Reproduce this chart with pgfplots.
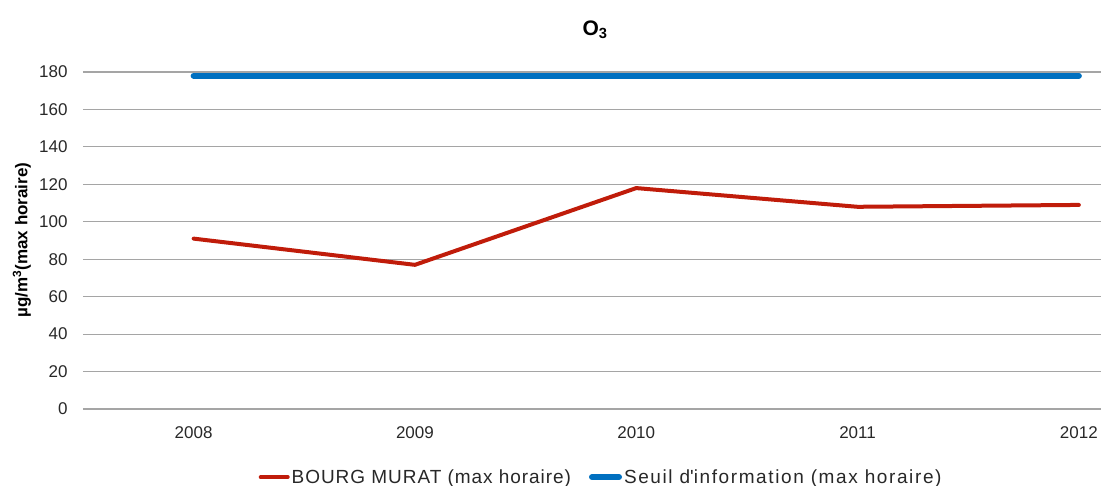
\documentclass[border=0pt]{standalone}
\usepackage{pgfplots}
\pgfplotsset{compat=1.18}
\usepackage{fontspec}
\setmainfont{Liberation Sans}
\definecolor{cred}{RGB}{192,28,10}
\definecolor{cblue}{RGB}{0,112,192}
\definecolor{cgrid}{RGB}{165,165,165}
\definecolor{ctext}{RGB}{40,40,40}
\begin{document}
\begin{tikzpicture}[x=1pt,y=1pt]
\useasboundingbox (0,0) rectangle (1101,-486);
\begin{axis}[
  at={(83pt,-409pt)}, anchor=south west,
  scale only axis, width=1018pt, height=337pt,
  xmin=-0.5, xmax=4.1, ymin=0, ymax=180,
  ytick={0,20,...,180},
  xtick={0,1,2,3,4},
  xticklabels={2008,2009,2010,2011,2012},
  axis line style={draw=none},
  major tick length=0pt,
  ymajorgrids, grid style={cgrid, line width=1.2pt},
  /pgf/number format/assume math mode=true,
  ticklabel style={font=\fontsize{17}{19}\selectfont, text=ctext},
  yticklabel style={xshift=-12pt},
  xticklabel style={yshift=-14pt},
  legend columns=2,
  legend style={at={(0.509,-0.202)}, anchor=center, draw=none, font=\fontsize{19}{21}\selectfont\addfontfeatures{LetterSpace=5}, text=ctext, /tikz/every even column/.append style={column sep=16pt}},
  legend image code/.code={\draw[#1] (0pt,0pt) -- (27pt,0pt);},
]
\addplot[cred, line width=4pt, line cap=round, line join=round] coordinates {(0,91) (1,77) (2,118) (3,108) (4,109)};
\addlegendentry{BOURG MURAT (max horaire)}
\addplot[cblue, line width=6pt, line cap=round] coordinates {(0,178) (1,178) (2,178) (3,178) (4,178)};
\addlegendentry{\addfontfeatures{LetterSpace=8.5}Seuil d\textquotesingle information (max horaire)}
\end{axis}
\node[font=\fontsize{21}{23}\selectfont\bfseries] at (595,-30) {O\textsubscript{3}};
\node[font=\fontsize{17}{19}\selectfont\bfseries, rotate=90] at (22,-240) {µg/m\textsuperscript{3}(max horaire)};
\end{tikzpicture}
\end{document}
